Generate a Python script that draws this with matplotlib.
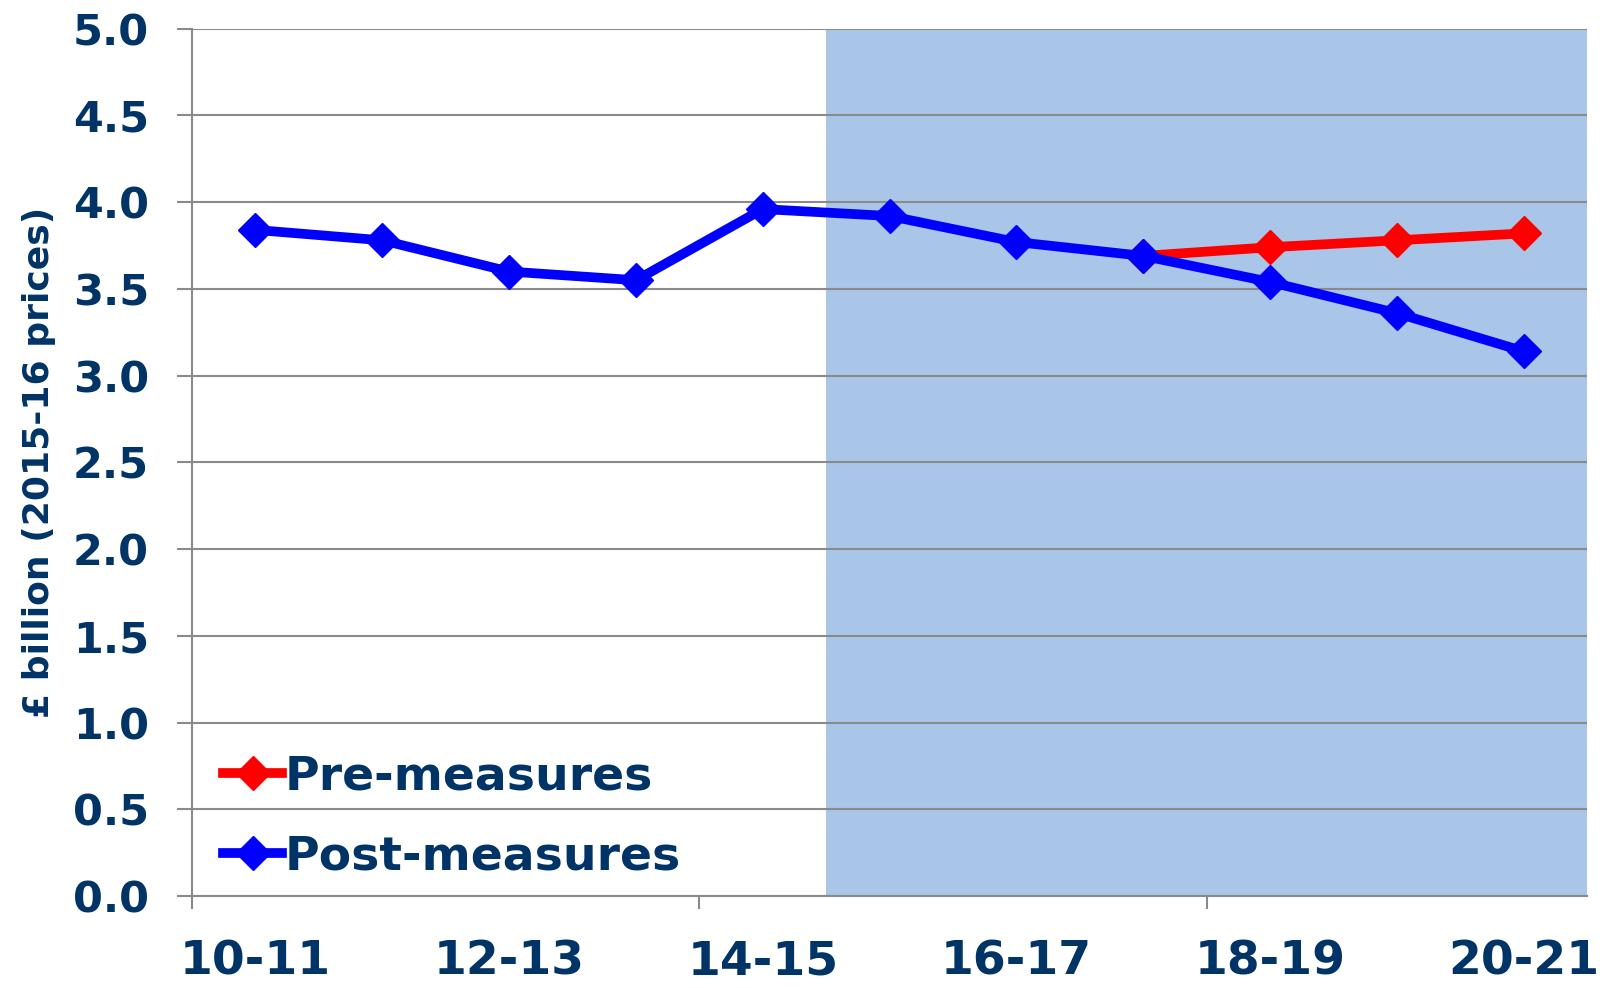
import matplotlib
matplotlib.use("Agg")
import matplotlib.pyplot as plt

# ---------------------------------------------------------------
# Data
# ---------------------------------------------------------------

years = ["10-11", "11-12", "12-13", "13-14", "14-15", "15-16",
         "16-17", "17-18", "18-19", "19-20", "20-21"]
post_measures = [3.84, 3.78, 3.60, 3.55, 3.96, 3.92, 3.77, 3.69, 3.54, 3.36, 3.14]
pre_years = ["17-18", "18-19", "19-20", "20-21"]
pre_measures = [3.69, 3.74, 3.78, 3.82]
forecast_start = "15-16"

NAVY = "#003366"
GRID = "#8a8a8a"
SHADE = "#a9c6e9"

# ---------------------------------------------------------------
# Plot
# ---------------------------------------------------------------

plt.rcParams['font.family'] = ['DejaVu Sans']
plt.rcParams['font.weight'] = 'bold'
plt.rcParams['axes.labelweight'] = 'bold'

fig = plt.figure(figsize=(16, 9.88), dpi=100)
ax = fig.add_axes([0.12, 0.093, 0.872, 0.878])

xs = list(range(len(years)))
pre_xs = [years.index(y) for y in pre_years]

# shaded forecast period
ax.axvspan(years.index(forecast_start) - 0.5, len(years) - 0.5, color=SHADE, zorder=0, lw=0)

ax.plot(pre_xs, pre_measures, color="#ff0000", lw=7, marker="D", markersize=17,
        label="Pre-measures", zorder=3)
ax.plot(xs, post_measures, color="#0000ff", lw=7, marker="D", markersize=17,
        label="Post-measures", zorder=4)

ax.set_xlim(-0.5, len(years) - 0.5)
ax.set_ylim(0, 5)
ax.set_yticks([i * 0.5 for i in range(11)])
ax.set_yticklabels(["%.1f" % (i * 0.5) for i in range(11)])

# labels every second year, tick marks every fourth boundary
ax.set_xticks(xs[::2])
ax.set_xticklabels(years[::2])
ax.set_xticks([-0.5, 3.5, 7.5], minor=True)
ax.tick_params(axis='x', which='major', length=0, pad=31, labelsize=34, labelcolor=NAVY)
ax.tick_params(axis='x', which='minor', length=9, width=1.5, color=GRID, direction='out')
ax.tick_params(axis='y', length=11, width=1.5, color=GRID, pad=20, labelsize=31, labelcolor=NAVY)

ax.grid(axis='y', color=GRID, lw=1.5, zorder=1)
for line in ax.get_ygridlines():
    line.set_zorder(1)

for s in ["top", "right"]:
    ax.spines[s].set_visible(False)
for s in ["left", "bottom"]:
    ax.spines[s].set_color(GRID)
    ax.spines[s].set_linewidth(1.5)

ax.set_ylabel("£ billion (2015-16 prices)", fontsize=26, color=NAVY, labelpad=12)

leg = ax.legend(loc="lower left", bbox_to_anchor=(-0.008, -0.03), frameon=False, fontsize=34,
                handlelength=1.25, handletextpad=0.05, labelspacing=0.75)
for t in leg.get_texts():
    t.set_color(NAVY)

fig.savefig("out.png", dpi=100)
